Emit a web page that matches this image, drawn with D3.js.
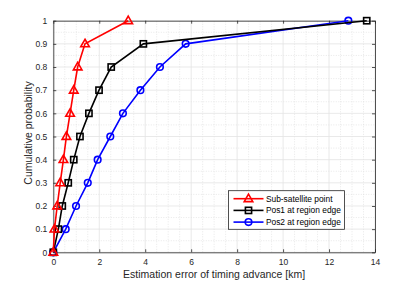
<!DOCTYPE html>
<html>
<head>
<meta charset="utf-8">
<script src="https://cdn.jsdelivr.net/npm/d3@7"></script>
<style>
  body { margin: 0; background: #fff; }
  svg { display: block; font-family: "Liberation Sans", Arial, sans-serif; }
</style>
</head>
<body>
<svg width="415" height="283"></svg>
<script>
// cumulative probability levels
const probs = [0, 0.1, 0.2, 0.3, 0.4, 0.5, 0.6, 0.7, 0.8, 0.9, 1];

// estimation error [km] at each probability level
const subSatellite = [0, 0.05, 0.17, 0.3, 0.44, 0.57, 0.73, 0.89, 1.06, 1.38, 3.26];
const pos1Edge = [0, 0.22, 0.39, 0.65, 0.89, 1.16, 1.55, 1.99, 2.52, 3.92, 13.64];
const pos2Edge = [0, 0.54, 0.99, 1.5, 1.93, 2.48, 3.03, 3.79, 4.64, 5.76, 12.84];

const seriesNames = ["Sub-satellite point", "Pos1 at region edge", "Pos2 at region edge"];
const seriesColors = ["#ff0000", "#000000", "#0000ff"];
const seriesMarkers = ["triangle", "square", "circle"];

const xTicks = [0, 2, 4, 6, 8, 10, 12, 14];
const yTicks = [0, 0.1, 0.2, 0.3, 0.4, 0.5, 0.6, 0.7, 0.8, 0.9, 1];

const svg = d3.select("svg");
const margin = {left: 53.3, right: 40, top: 20.7, bottom: 30.7};
const width = 415, height = 283;

const x = d3.scaleLinear().domain([0, 14]).range([margin.left, width - margin.right]);
const y = d3.scaleLinear().domain([0, 1]).range([height - margin.bottom, margin.top]);

const series = [subSatellite, pos1Edge, pos2Edge].map((vals, i) => ({
    name: seriesNames[i],
    color: seriesColors[i],
    marker: seriesMarkers[i],
    points: vals.map((v, j) => ({x: v, y: probs[j]}))
}));

// minor grid
const grid = svg.append("g");
grid.selectAll(".minorx")
    .data(d3.range(0.5, 14, 0.5).filter(v => v % 2 !== 0))
    .enter().append("line")
    .attr("x1", d => x(d)).attr("x2", d => x(d))
    .attr("y1", y(0)).attr("y2", y(1))
    .attr("stroke", "#d9d9d9").attr("stroke-width", 0.6)
    .attr("stroke-dasharray", "1,1.5");
grid.selectAll(".minory")
    .data(d3.range(0.05, 1, 0.1))
    .enter().append("line")
    .attr("x1", x(0)).attr("x2", x(14))
    .attr("y1", d => y(d)).attr("y2", d => y(d))
    .attr("stroke", "#d9d9d9").attr("stroke-width", 0.6)
    .attr("stroke-dasharray", "1,1.5");

// major grid
grid.selectAll(".majorx")
    .data(xTicks)
    .enter().append("line")
    .attr("x1", d => x(d)).attr("x2", d => x(d))
    .attr("y1", y(0)).attr("y2", y(1))
    .attr("stroke", "#e3e3e3").attr("stroke-width", 0.8);
grid.selectAll(".majory")
    .data(yTicks)
    .enter().append("line")
    .attr("x1", x(0)).attr("x2", x(14))
    .attr("y1", d => y(d)).attr("y2", d => y(d))
    .attr("stroke", "#e3e3e3").attr("stroke-width", 0.8);

// axes (MATLAB-style inward ticks, box)
const axisColor = "#262626";
function styleAxis(g) {
    g.select(".domain").attr("stroke", axisColor).attr("stroke-width", 0.8);
    g.selectAll(".tick line").attr("stroke", axisColor).attr("stroke-width", 0.8);
    g.selectAll(".tick text").attr("fill", axisColor).attr("font-size", 8.5);
}
svg.append("g")
    .attr("transform", `translate(0,${y(0)})`)
    .call(d3.axisBottom(x).tickValues(xTicks).tickSizeInner(-3).tickSizeOuter(0).tickPadding(7))
    .call(styleAxis);
svg.append("g")
    .attr("transform", `translate(0,${y(1)})`)
    .call(d3.axisTop(x).tickValues(xTicks).tickSizeInner(-3).tickSizeOuter(0).tickFormat(""))
    .call(styleAxis);
svg.append("g")
    .attr("transform", `translate(${x(0)},0)`)
    .call(d3.axisLeft(y).tickValues(yTicks).tickSizeInner(-3).tickSizeOuter(0).tickPadding(6)
        .tickFormat(d => d === 0 || d === 1 ? d3.format("d")(d) : d3.format(".1f")(d)))
    .call(styleAxis);
svg.append("g")
    .attr("transform", `translate(${x(14)},0)`)
    .call(d3.axisRight(y).tickValues(yTicks).tickSizeInner(-3).tickSizeOuter(0).tickFormat(""))
    .call(styleAxis);

// axis labels
svg.append("text")
    .attr("x", (x(0) + x(14)) / 2).attr("y", 278)
    .attr("text-anchor", "middle").attr("font-size", 10.5).attr("fill", axisColor)
    .text("Estimation error of timing advance [km]");
svg.append("text")
    .attr("transform", `translate(32,133) rotate(-90)`)
    .attr("text-anchor", "middle").attr("font-size", 10.5).attr("fill", axisColor)
    .text("Cumulative probability");

// markers
function drawMarker(g, type, color) {
    if (type === "triangle") {
        g.append("path").attr("d", "M0,-4.6L4.3,2.9L-4.3,2.9Z");
    } else if (type === "square") {
        g.append("rect").attr("x", -3.1).attr("y", -3.1).attr("width", 6.2).attr("height", 6.2);
    } else {
        g.append("circle").attr("r", 3.3);
    }
    g.selectAll("*").attr("fill", "none").attr("stroke", color).attr("stroke-width", 1.6);
}

const line = d3.line().x(d => x(d.x)).y(d => y(d.y));
const plot = svg.append("g");
// draw blue, then black, then red on top
[2, 1, 0].forEach(i => {
    const s = series[i];
    plot.append("path")
        .datum(s.points)
        .attr("d", line)
        .attr("fill", "none")
        .attr("stroke", s.color)
        .attr("stroke-width", 1.6);
    plot.selectAll(null)
        .data(s.points)
        .enter().append("g")
        .attr("transform", d => `translate(${x(d.x)},${y(d.y)})`)
        .each(function() { drawMarker(d3.select(this), s.marker, s.color); });
});

// legend
const legend = svg.append("g").attr("transform", "translate(228.5,190.7)");
legend.append("rect")
    .attr("width", 116).attr("height", 38.6)
    .attr("fill", "#fff").attr("stroke", axisColor).attr("stroke-width", 0.8);
series.forEach((s, i) => {
    const row = legend.append("g").attr("transform", `translate(0,${8 + i * 11.7})`);
    row.append("line")
        .attr("x1", 5).attr("x2", 35)
        .attr("stroke", s.color).attr("stroke-width", 1.6);
    drawMarker(row.append("g").attr("transform", "translate(20,0)"), s.marker, s.color);
    row.append("text")
        .attr("x", 37.4).attr("y", 3)
        .attr("font-size", 8.4).attr("fill", "#000")
        .text(s.name);
});
</script>
</body>
</html>
